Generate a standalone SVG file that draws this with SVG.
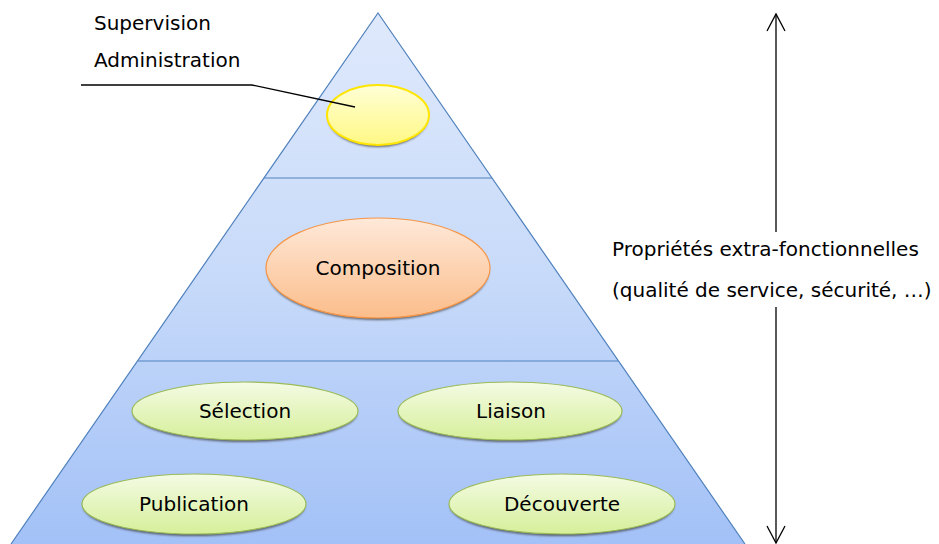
<svg xmlns="http://www.w3.org/2000/svg" width="939" height="544" viewBox="0 0 939 544">
<style>
.t{font-family:"DejaVu Sans","Verdana",sans-serif;font-size:20px;fill:#000}
.c{text-anchor:middle}
.tier{stroke:#4f81bd;stroke-width:1.2;fill:none}
.sh{fill:#3a3a3a;opacity:0.75;filter:url(#blur)}
.conn{stroke:#000;stroke-width:1.3;fill:none}
</style>
<defs>
<linearGradient id="pyr" x1="0" y1="13" x2="0" y2="544" gradientUnits="userSpaceOnUse">
<stop offset="0" stop-color="#dfe9fc"/>
<stop offset="0.5" stop-color="#c7daf9"/>
<stop offset="1" stop-color="#a3c1f7"/>
</linearGradient>
<linearGradient id="yel" x1="0" y1="0" x2="0" y2="1">
<stop offset="0" stop-color="#ffffd6"/>
<stop offset="1" stop-color="#fff884"/>
</linearGradient>
<linearGradient id="org" x1="0" y1="0" x2="0" y2="1">
<stop offset="0" stop-color="#fee9d9"/>
<stop offset="1" stop-color="#fbbd8b"/>
</linearGradient>
<linearGradient id="grn" x1="0" y1="0" x2="0" y2="1">
<stop offset="0" stop-color="#f4fbe4"/>
<stop offset="1" stop-color="#d6ef9a"/>
</linearGradient>
<filter id="blur" x="-10%" y="-20%" width="120%" height="140%">
<feGaussianBlur stdDeviation="0.8"/>
</filter>
<marker id="open" viewBox="0 0 20 20" refX="18" refY="10" markerWidth="20" markerHeight="20" markerUnits="userSpaceOnUse" orient="auto-start-reverse">
<path d="M1,1 L18,10 L1,19" fill="none" stroke="#000" stroke-width="1.3"/>
</marker>
</defs>

<g id="pyramid">
<polygon points="378,13 745,544 11,544" fill="url(#pyr)"/>
<polyline class="tier" points="11,544 378,13 745,544"/>
<line class="tier" x1="264" y1="178" x2="492" y2="178"/>
<line class="tier" x1="138" y1="361" x2="618" y2="361"/>
</g>

<g id="node-supervision">
<ellipse class="sh" cx="378" cy="117" rx="50" ry="30"/>
<ellipse cx="378" cy="115" rx="51" ry="30" fill="url(#yel)" stroke="#ffe500" stroke-width="2"/>
</g>

<g id="label-supervision">
<text class="t" x="94" y="30">Supervision</text>
<text class="t" x="94" y="67">Administration</text>
</g>

<g id="node-composition">
<ellipse class="sh" cx="378" cy="270" rx="111" ry="50"/>
<ellipse cx="378" cy="268" rx="112" ry="50" fill="url(#org)" stroke="#f79646" stroke-width="1.2"/>
<text class="t c" x="378" y="275">Composition</text>
</g>

<g id="node-selection">
<ellipse class="sh" cx="245" cy="413" rx="112" ry="29"/>
<ellipse cx="245" cy="411" rx="113" ry="29" fill="url(#grn)" stroke="#9bbb59" stroke-width="1.2"/>
<text class="t c" x="245" y="418">Sélection</text>
</g>

<g id="node-liaison">
<ellipse class="sh" cx="510" cy="413" rx="111" ry="29"/>
<ellipse cx="510" cy="411" rx="112" ry="29" fill="url(#grn)" stroke="#9bbb59" stroke-width="1.2"/>
<text class="t c" x="511" y="418">Liaison</text>
</g>

<g id="node-publication">
<ellipse class="sh" cx="194" cy="506" rx="111" ry="30"/>
<ellipse cx="194" cy="504" rx="112" ry="30" fill="url(#grn)" stroke="#9bbb59" stroke-width="1.2"/>
<text class="t c" x="194" y="511">Publication</text>
</g>

<g id="node-decouverte">
<ellipse class="sh" cx="562" cy="506" rx="112" ry="30"/>
<ellipse cx="562" cy="504" rx="113" ry="30" fill="url(#grn)" stroke="#9bbb59" stroke-width="1.2"/>
<text class="t c" x="562" y="511">Découverte</text>
</g>

<g id="label-proprietes">
<text class="t" x="612" y="256">Propriétés extra-fonctionnelles</text>
<text class="t" x="612" y="297">(qualité de service, sécurité, …)</text>
</g>

<g id="connectors">
<polyline class="conn" points="81,85 252,85 355,107"/>
<line class="conn" x1="776" y1="232" x2="776" y2="14" marker-end="url(#open)"/>
<line class="conn" x1="776" y1="307" x2="776" y2="543" marker-end="url(#open)"/>
</g>
</svg>
